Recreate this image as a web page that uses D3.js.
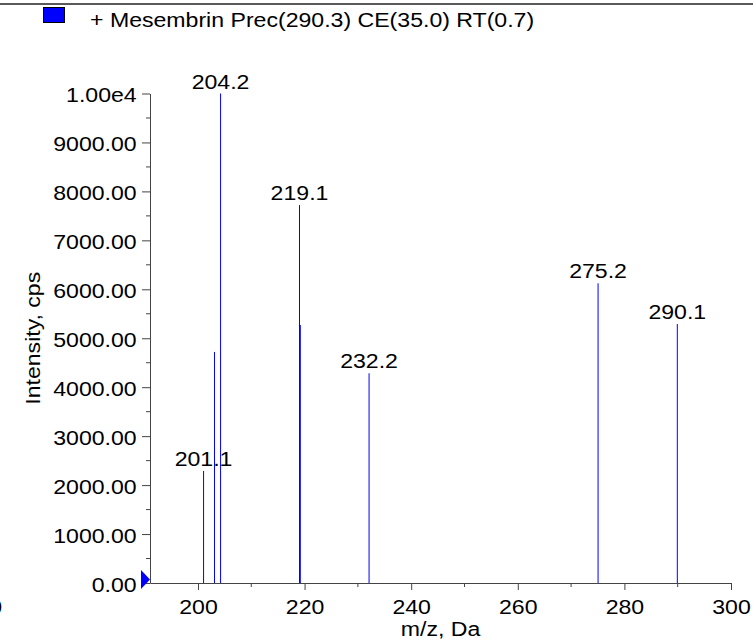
<!DOCTYPE html>
<html>
<head>
<meta charset="utf-8">
<script src="https://cdn.jsdelivr.net/npm/d3@7"></script>
<style>
html,body{margin:0;padding:0;background:#fff;}
svg{display:block;font-family:"Liberation Sans",Arial,sans-serif;}
</style>
</head>
<body>
<svg id="chart" width="753" height="641"></svg>
<script>
// Data
const legendLabel = "+ Mesembrin Prec(290.3) CE(35.0) RT(0.7)";
const peakMz        = [201.05, 203.1, 204.24, 219.05, 219.2, 232.1, 275.06, 289.93];
const peakIntensity = [2290,   4720,  10000,  7720,   5270,  4285,  6122,   5292];
const peakLabels    = ["201.1", "", "204.2", "219.1", "", "232.2", "275.2", "290.1"];
const xTicks = [200, 220, 240, 260, 280, 300];
const yTicks = [0, 1000, 2000, 3000, 4000, 5000, 6000, 7000, 8000, 9000, 10000];
const yTickLabels = ["0.00","1000.00","2000.00","3000.00","4000.00","5000.00","6000.00","7000.00","8000.00","9000.00","1.00e4"];

const svg = d3.select("#chart");
const x = d3.scaleLinear().domain([191, 300]).range([150, 731]);
const y = d3.scaleLinear().domain([0, 10000]).range([583, 93.5]);
const fs = 21;
const sx = 1.1; // horizontal stretch of the reference's glyphs

function label(px, py, str, anchor, rot) {
  const g = svg.append("g").attr("transform", `translate(${px},${py})` + (rot ? ` rotate(${rot})` : ""));
  return g.append("text").attr("transform", `scale(${sx},1)`)
    .attr("text-anchor", anchor || "start").attr("font-size", fs).attr("fill", "#000").text(str);
}

// top rule
svg.append("line").attr("x1",0).attr("x2",753).attr("y1",4).attr("y2",4)
  .attr("stroke","#222").attr("stroke-width",1.5);

// legend
svg.append("rect").attr("x",43.5).attr("y",7.5).attr("width",21).attr("height",15)
  .attr("fill","#0000ff").attr("stroke","#000").attr("stroke-width",1);
label(90, 27, legendLabel);

// x axis
const xAxis = d3.axisBottom(x).tickValues(xTicks).tickSize(7).tickSizeOuter(0).tickFormat(d3.format("d"));
const gx = svg.append("g").attr("transform",`translate(0,${y(0)})`).call(xAxis);
gx.select(".domain").attr("stroke","#444");
gx.selectAll(".tick line").attr("stroke","#444");
gx.selectAll(".tick text").attr("font-size",fs).attr("font-family","Liberation Sans, Arial, sans-serif")
  .attr("fill","#000").attr("dy","0.72em").attr("y",15.5).attr("transform",`scale(${sx},1)`);
const xMinor = d3.range(210, 300, 20);
svg.append("g").selectAll("line").data(xMinor).join("line")
  .attr("x1",d=>x(d)).attr("x2",d=>x(d)).attr("y1",y(0)).attr("y2",y(0)+4)
  .attr("stroke","#444");
// stray clipped label at the left edge, as in the reference
label(2, y(0)+31, "160", "end");

// y axis
const yAxis = d3.axisLeft(y).tickValues(yTicks).tickSize(8).tickSizeOuter(0)
  .tickFormat((d,i)=>yTickLabels[i]);
const gy = svg.append("g").attr("transform",`translate(${x(191)},0)`).call(yAxis);
gy.select(".domain").attr("stroke","#444");
gy.selectAll(".tick line").attr("stroke","#444");
gy.selectAll(".tick text").attr("font-size",fs).attr("font-family","Liberation Sans, Arial, sans-serif")
  .attr("fill","#000").attr("x",-13.3/sx).attr("dy","0.4em").attr("transform",`scale(${sx},1)`);
const yMinor = d3.range(500, 10000, 1000);
svg.append("g").selectAll("line").data(yMinor).join("line")
  .attr("x1",x(191)-4).attr("x2",x(191)).attr("y1",d=>y(d)).attr("y2",d=>y(d))
  .attr("stroke","#444");

// blue marker triangle at origin
svg.append("path")
  .attr("d",`M${x(191)-9},${y(0)-13} L${x(191)},${y(0)-3.5} L${x(191)-9},${y(0)+6} Z`)
  .attr("fill","#0000ff");

// axis titles
label(x(245.5), 635.5, "m/z, Da", "middle");
label(40, (y(0)+y(10000))/2, "Intensity, cps", "middle", -90);

// peaks
const peaks = peakMz.map((m,i)=>({m, v:peakIntensity[i], l:peakLabels[i]}));
svg.append("g").selectAll("line").data(peaks).join("line")
  .attr("x1",d=>x(d.m)).attr("x2",d=>x(d.m)).attr("y1",y(0)).attr("y2",d=>y(d.v))
  .attr("stroke","#0000ff").attr("stroke-width",1);
peaks.filter(d=>d.l).forEach(d => label(x(d.m), y(d.v)-5, d.l, "middle"));
</script>
</body>
</html>
